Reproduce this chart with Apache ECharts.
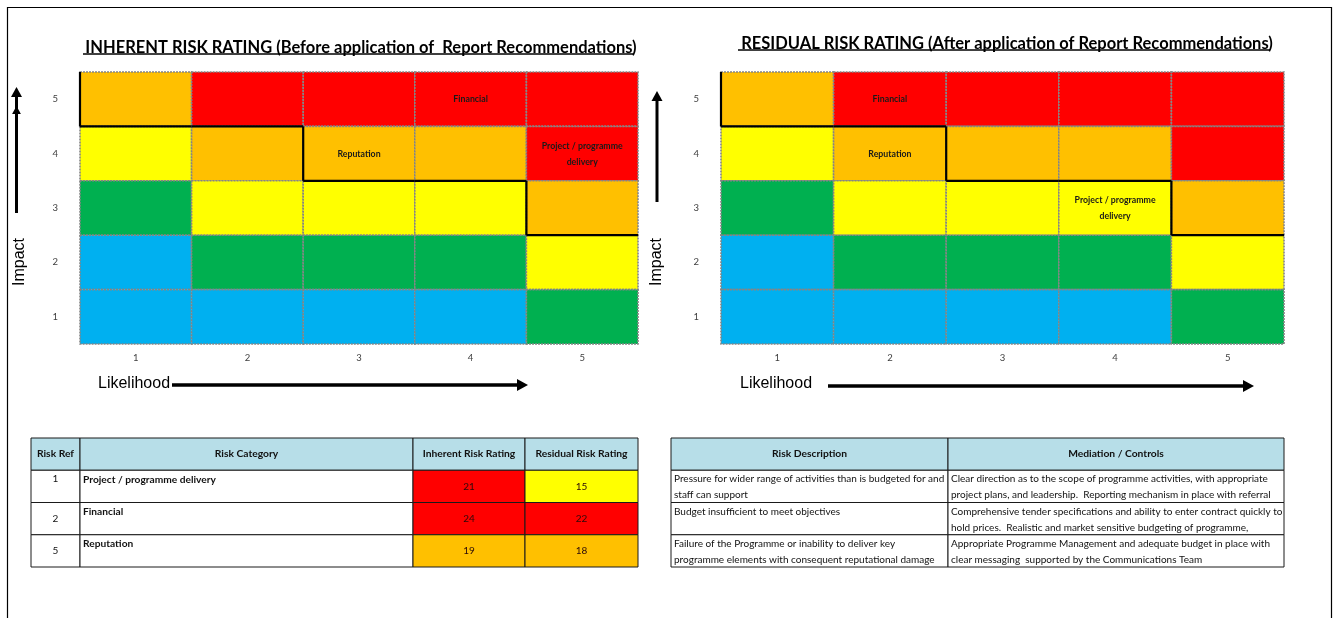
<!DOCTYPE html>
<html><head><meta charset="utf-8">
<script src="https://cdn.jsdelivr.net/npm/echarts@6/dist/echarts.min.js"></script>
<style>html,body{margin:0;padding:0;background:#fff}#c{width:1338px;height:618px}</style>
</head><body><div id="c"></div>
<script>
// ---------- data ----------
const likelihoodLabels = ['1', '2', '3', '4', '5'];
const impactLabels = ['1', '2', '3', '4', '5'];
// colour level of every cell, rows from impact 5 (top) down to impact 1
const levelRowsTopDown = [
  [3, 4, 4, 4, 4],
  [2, 3, 3, 3, 4],
  [1, 2, 2, 2, 3],
  [0, 1, 1, 1, 2],
  [0, 0, 0, 0, 1]
];
// lowest impact of the upper (high-risk) zone for each likelihood column
const zoneFloorImpact = [5, 5, 4, 4, 3];
const riskLabels = ['Project / programme\ndelivery', 'Financial', 'Reputation'];
const inherentLikelihood = [5, 4, 3];
const inherentImpact = [4, 5, 4];
const residualLikelihood = [4, 2, 2];
const residualImpact = [3, 5, 4];

const tableHeaders = ['Risk Ref', 'Risk Category', 'Inherent Risk Rating', 'Residual Risk Rating'];
const riskRefs = ['1', '2', '5'];
const riskCategories = ['Project / programme delivery', 'Financial', 'Reputation'];
const inherentRatings = [21, 24, 19];
const residualRatings = [15, 22, 18];
const inherentRatingLevels = [4, 4, 3];
const residualRatingLevels = [2, 4, 3];

const detailHeaders = ['Risk Description', 'Mediation / Controls'];
const riskDescriptions = [
  'Pressure for wider range of activities than is budgeted for and\nstaff can support',
  'Budget insufficient to meet objectives',
  'Failure of the Programme or inability to deliver key\nprogramme elements with consequent reputational damage'
];
const mitigations = [
  'Clear direction as to the scope of programme activities, with appropriate\nproject plans, and leadership.  Reporting mechanism in place with referral',
  'Comprehensive tender specifications and ability to enter contract quickly to\nhold prices.  Realistic and market sensitive budgeting of programme,',
  'Appropriate Programme Management and adequate budget in place with\nclear messaging  supported by the Communications Team'
];

// ---------- styles / layout ----------
const levelColors = ['#00B0F0', '#00B050', '#FFFF00', '#FFC000', '#FF0000'];
const NARROW = 'Lato,"DejaVu Sans",sans-serif';
const REG = '"Liberation Sans",Arial,sans-serif';
const leftTableEdges = [0, 49, 382, 494, 607];
const rightTableEdges = [0, 277, 613];
const headerFill = '#B7DEE8';

function buildCells(lk, im) {
  const cells = [];
  for (let r = 0; r < 5; r++) {
    const impactIdx = 4 - r;
    for (let c = 0; c < 5; c++) {
      let label = '';
      for (let k = 0; k < riskLabels.length; k++) {
        if (lk[k] - 1 === c && im[k] - 1 === impactIdx) label = riskLabels[k];
      }
      cells.push({ x: c, y: impactIdx, level: levelRowsTopDown[r][c], label });
    }
  }
  return cells;
}
const inherentCells = buildCells(inherentLikelihood, inherentImpact);
const residualCells = buildCells(residualLikelihood, residualImpact);

function cellRenderer(cells) {
  return function (params, api) {
    const c = cells[params.dataIndex];
    const p = api.coord([c.x, c.y]);
    const s = api.size([1, 1]);
    const ch = [{
      type: 'rect',
      shape: { x: p[0] - s[0] / 2, y: p[1] - s[1] / 2, width: s[0], height: s[1] },
      style: { fill: levelColors[c.level], stroke: '#858585', lineWidth: 1.6, lineDash: [2, 1] }
    }];
    if (c.label) ch.push({
      type: 'text', x: p[0], y: p[1], scaleX: 0.86,
      style: { text: c.label, fill: '#1a1a1a', font: 'bold 10.2px ' + NARROW, align: 'center', verticalAlign: 'middle', lineHeight: 16 }
    });
    return { type: 'group', children: ch };
  };
}

function boundaryRenderer(params, api) {
  const i = params.dataIndex;
  const fl = zoneFloorImpact[i] - 1;
  const p = api.coord([i, fl]);
  const s = api.size([1, 1]);
  const left = p[0] - s[0] / 2, right = p[0] + s[0] / 2, bottom = p[1] + s[1] / 2;
  const segs = [[[left, bottom], [right, bottom]]];
  if (i === 0) {
    const top = api.coord([0, 4])[1] - s[1] / 2;
    segs.push([[left, top], [left, bottom]]);
  } else if (zoneFloorImpact[i - 1] !== zoneFloorImpact[i]) {
    const pb = api.coord([i - 1, zoneFloorImpact[i - 1] - 1])[1] + s[1] / 2;
    segs.push([[left, pb], [left, bottom]]);
  }
  return {
    type: 'group',
    children: segs.map(sg => ({ type: 'line', shape: { x1: sg[0][0], y1: sg[0][1], x2: sg[1][0], y2: sg[1][1] }, style: { stroke: '#000', lineWidth: 2.2 } }))
  };
}

// table cells
const HEAD_FONT = 'bold 10.3px ' + NARROW;
const BODY_FONT = '10px ' + NARROW;
function leftTableCells() {
  const out = [];
  tableHeaders.forEach((h, c) => out.push({ c, r: 0, text: h, fill: headerFill, font: HEAD_FONT, align: 'center', valign: 'middle' }));
  for (let i = 0; i < riskRefs.length; i++) {
    out.push({ c: 0, r: i + 1, text: riskRefs[i], fill: '#fff', font: BODY_FONT, align: 'center', valign: i === 0 ? 'top' : 'middle' });
    out.push({ c: 1, r: i + 1, text: riskCategories[i], fill: '#fff', font: 'bold 10.2px ' + NARROW, align: 'left', valign: 'top' });
    out.push({ c: 2, r: i + 1, text: String(inherentRatings[i]), fill: levelColors[inherentRatingLevels[i]], font: BODY_FONT, align: 'center', valign: 'middle', color: '#2a0a0a' });
    out.push({ c: 3, r: i + 1, text: String(residualRatings[i]), fill: levelColors[residualRatingLevels[i]], font: BODY_FONT, align: 'center', valign: 'middle', color: '#2a0a0a' });
  }
  return out;
}
function rightTableCells() {
  const out = [];
  detailHeaders.forEach((h, c) => out.push({ c, r: 0, text: h, fill: headerFill, font: HEAD_FONT, align: 'center', valign: 'middle' }));
  for (let i = 0; i < riskDescriptions.length; i++) {
    out.push({ c: 0, r: i + 1, text: riskDescriptions[i], fill: '#fff', font: BODY_FONT, align: 'left', valign: 'top' });
    out.push({ c: 1, r: i + 1, text: mitigations[i], fill: '#fff', font: BODY_FONT, align: 'left', valign: 'top' });
  }
  return out;
}
const lCells = leftTableCells();
const rCells = rightTableCells();

function tableRenderer(cells, edges) {
  return function (params, api) {
    const t = cells[params.dataIndex];
    const yc = api.coord([0, t.r])[1];
    const rh = api.size([0, 1])[1];
    const x0 = api.coord([edges[t.c], t.r])[0];
    const x1 = api.coord([edges[t.c + 1], t.r])[0];
    const top = yc - rh / 2;
    const ch = [{ type: 'rect', shape: { x: x0, y: top, width: x1 - x0, height: rh }, style: { fill: t.fill, stroke: '#1a1a1a', lineWidth: 1 } }];
    const tx = t.align === 'center' ? (x0 + x1) / 2 : x0 + 3;
    const ty = t.valign === 'top' ? top + 1 : yc;
    ch.push({ type: 'text', x: tx, y: ty, style: { text: t.text, font: t.font, fill: t.color || '#111', align: t.align, verticalAlign: t.valign, lineHeight: 16 } });
    return { type: 'group', children: ch };
  };
}

const catAxisX = (gi) => ({
  type: 'category', gridIndex: gi, data: likelihoodLabels,
  axisLine: { show: false }, axisTick: { show: false }, splitLine: { show: false },
  axisLabel: { color: '#404040', fontSize: 9.5, fontFamily: NARROW, margin: 9 }
});
const catAxisY = (gi) => ({
  type: 'category', gridIndex: gi, data: impactLabels,
  axisLine: { show: false }, axisTick: { show: false }, splitLine: { show: false },
  axisLabel: { color: '#404040', fontSize: 9.5, fontFamily: NARROW, margin: 22 }
});
const tblX = (gi, w) => ({ type: 'value', gridIndex: gi, min: 0, max: w, show: false });
const tblY = (gi) => ({ type: 'category', gridIndex: gi, data: ['h', 'r1', 'r2', 'r3'], inverse: true, show: false });

function arrowHead(x, y, dir, size) {
  if (dir === 'up') return [[x, y], [x - size * 0.55, y + size], [x + size * 0.55, y + size]];
  return [[x, y], [x - size, y - size * 0.55], [x - size, y + size * 0.55]];
}

const chart = echarts.init(document.getElementById('c'), null, { renderer: 'canvas' });
chart.setOption({
  backgroundColor: '#fff',
  animation: false,
  title: [
    { text: 'INHERENT RISK RATING (Before application of  Report Recommendations)', left: 356, top: 34, textAlign: 'center',
      textStyle: { fontFamily: NARROW, fontWeight: 'bold', fontSize: 16.5, color: '#000' } },
    { text: 'RESIDUAL RISK RATING (After application of Report Recommendations)', left: 1002, top: 30, textAlign: 'center',
      textStyle: { fontFamily: NARROW, fontWeight: 'bold', fontSize: 16.5, color: '#000' } }
  ],
  grid: [
    { left: 80, top: 72, width: 558, height: 272 },
    { left: 721, top: 72, width: 563, height: 272 },
    { left: 31, top: 438, width: 607, height: 129 },
    { left: 671, top: 438, width: 613, height: 129 }
  ],
  xAxis: [catAxisX(0), catAxisX(1), tblX(2, 607), tblX(3, 613)],
  yAxis: [catAxisY(0), catAxisY(1), tblY(2), tblY(3)],
  series: [
    { type: 'custom', xAxisIndex: 0, yAxisIndex: 0, renderItem: cellRenderer(inherentCells), data: inherentCells.map(c => [c.x, c.y]) },
    { type: 'custom', xAxisIndex: 1, yAxisIndex: 1, renderItem: cellRenderer(residualCells), data: residualCells.map(c => [c.x, c.y]) },
    { type: 'custom', xAxisIndex: 0, yAxisIndex: 0, renderItem: boundaryRenderer, data: zoneFloorImpact.map((f, i) => [i, f - 1]), z: 5 },
    { type: 'custom', xAxisIndex: 1, yAxisIndex: 1, renderItem: boundaryRenderer, data: zoneFloorImpact.map((f, i) => [i, f - 1]), z: 5 },
    { type: 'custom', xAxisIndex: 2, yAxisIndex: 2, renderItem: tableRenderer(lCells, leftTableEdges), data: lCells.map(t => [leftTableEdges[t.c], t.r]) },
    { type: 'custom', xAxisIndex: 3, yAxisIndex: 3, renderItem: tableRenderer(rCells, rightTableEdges), data: rCells.map(t => [rightTableEdges[t.c], t.r]) }
  ],
  graphic: [
    { type: 'line', shape: { x1: 7.5, y1: 7, x2: 7.5, y2: 618 }, style: { stroke: '#000', lineWidth: 1.2 } },
    { type: 'line', shape: { x1: 7, y1: 7.5, x2: 1331.5, y2: 7.5 }, style: { stroke: '#000', lineWidth: 1.2 } },
    { type: 'line', shape: { x1: 1331.5, y1: 7, x2: 1331.5, y2: 618 }, style: { stroke: '#000', lineWidth: 1.2 } },
    { type: 'line', shape: { x1: 83, y1: 54, x2: 633, y2: 54 }, style: { stroke: '#000', lineWidth: 1.3 } },
    { type: 'line', shape: { x1: 738, y1: 50, x2: 1270, y2: 50 }, style: { stroke: '#000', lineWidth: 1.3 } },
    { type: 'text', x: 20, y: 262, rotation: Math.PI / 2, style: { text: 'Impact', font: '16px ' + REG, fill: '#000', align: 'center', verticalAlign: 'middle' } },
    { type: 'text', x: 657, y: 262, rotation: Math.PI / 2, style: { text: 'Impact', font: '16px ' + REG, fill: '#000', align: 'center', verticalAlign: 'middle' } },
    { type: 'text', x: 98, y: 384, style: { text: 'Likelihood', font: '16px ' + REG, fill: '#000', align: 'left', verticalAlign: 'middle' } },
    { type: 'text', x: 740, y: 384, style: { text: 'Likelihood', font: '16px ' + REG, fill: '#000', align: 'left', verticalAlign: 'middle' } },
    { type: 'line', shape: { x1: 16.5, y1: 213, x2: 16.5, y2: 96 }, style: { stroke: '#000', lineWidth: 3 } },
    { type: 'polygon', shape: { points: arrowHead(16.5, 87, 'up', 10) }, style: { fill: '#000' } },
    { type: 'polygon', shape: { points: arrowHead(16.5, 106, 'up', 8) }, style: { fill: '#000' } },
    { type: 'line', shape: { x1: 657, y1: 202, x2: 657, y2: 100 }, style: { stroke: '#000', lineWidth: 3 } },
    { type: 'polygon', shape: { points: arrowHead(657, 91, 'up', 10) }, style: { fill: '#000' } },
    { type: 'line', shape: { x1: 172, y1: 385, x2: 518, y2: 385 }, style: { stroke: '#000', lineWidth: 3.5 } },
    { type: 'polygon', shape: { points: arrowHead(528, 385, 'right', 11) }, style: { fill: '#000' } },
    { type: 'line', shape: { x1: 828, y1: 386, x2: 1244, y2: 386 }, style: { stroke: '#000', lineWidth: 3.5 } },
    { type: 'polygon', shape: { points: arrowHead(1254, 386, 'right', 11) }, style: { fill: '#000' } }
  ]
});
</script>
</body></html>
